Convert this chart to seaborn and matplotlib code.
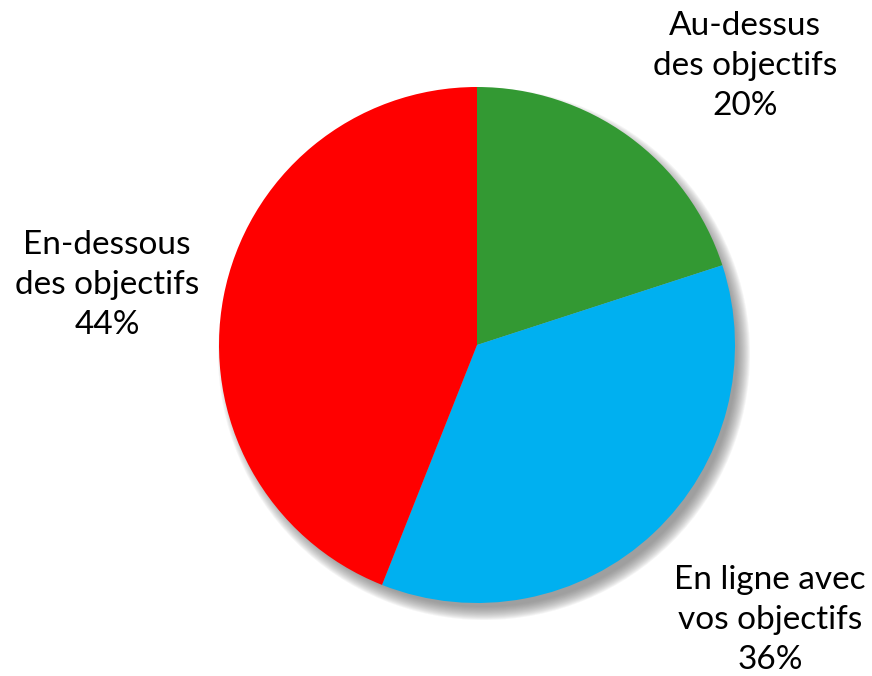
import matplotlib
matplotlib.use("Agg")
import matplotlib.pyplot as plt
import seaborn as sns
from matplotlib.patches import Circle

categories = ["Au-dessus\ndes objectifs", "En ligne avec\nvos objectifs", "En-dessous\ndes objectifs"]
values = [20, 36, 44]
colors = ["#339933", "#00B0F0", "#FF0000"]

sns.set_theme(style="white")
plt.rcParams['font.family'] = ['Lato', 'DejaVu Sans']

fig = plt.figure(figsize=(8.72, 6.76), dpi=100)
ax = fig.add_axes([0, 0, 1, 1])

cx, cy, r = 477, -345, 258

# soft drop shadow
for i in range(14):
    ax.add_patch(Circle((cx + 7, cy - 9), r + 8 - i, color='#707070', alpha=0.07, lw=0, zorder=1))

wedges, _ = ax.pie(values, colors=colors, startangle=90, counterclock=False,
                   center=(cx, cy), radius=r, wedgeprops={'linewidth': 0, 'zorder': 2},
                   frame=True)
ax.set_xlim(0, 872)
ax.set_ylim(-676, 0)
ax.set_aspect('equal')
ax.axis('off')

label_pos = [(745, -66), (770, -620), (107, -285)]
for (x, y), name, v in zip(label_pos, categories, values):
    ax.text(x, y, f"{name}\n{v}%", ha='center', va='center', fontsize=24,
            color='black', linespacing=1.42, zorder=5)

fig.savefig("out.png", dpi=100)
